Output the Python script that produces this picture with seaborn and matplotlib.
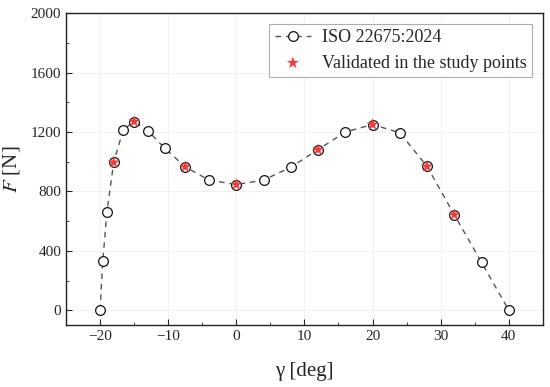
import numpy as np
import pandas as pd
import matplotlib.pyplot as plt
import seaborn as sns
from matplotlib.ticker import MultipleLocator

# data
gamma = [-20, -19.6, -19, -18, -16.6, -15, -13, -10.5, -7.5, -4, 0, 4, 8, 12, 16, 20, 24, 28, 32, 36, 40]
force = [0, 330, 660, 995, 1215, 1270, 1210, 1090, 965, 876, 846, 876, 963, 1081, 1200, 1250, 1195, 968, 643, 322, 0]
gamma_val = [-18, -15, -7.5, 0, 12, 20, 28, 32]
force_val = [995, 1270, 965, 846, 1081, 1250, 968, 643]

df = pd.DataFrame({'gamma': gamma, 'F': force})
df_val = pd.DataFrame({'gamma': gamma_val, 'F': force_val})

sns.set_style('ticks')
plt.rcParams['font.family'] = ['Liberation Serif', 'DejaVu Serif']
plt.rcParams['mathtext.fontset'] = 'stix'

fig, ax = plt.subplots(figsize=(5.5, 3.87), dpi=100)
fig.subplots_adjust(left=0.12, right=0.987, top=0.966, bottom=0.16)

sns.lineplot(data=df, x='gamma', y='F', ax=ax, color='#555555', linestyle=(0, (4, 3.5)),
             linewidth=1.0, marker='o', markersize=7, markerfacecolor='white',
             markeredgecolor='#111111', markeredgewidth=0.9, label='ISO 22675:2024')
sns.scatterplot(data=df_val, x='gamma', y='F', ax=ax, marker='*', s=85, color='#f03c3c',
                edgecolor='none', linewidth=0, zorder=5, label='Validated in the study points')

ax.set_xlim(-25, 45)
ax.set_ylim(-100, 2000)
ax.xaxis.set_major_locator(MultipleLocator(10))
ax.xaxis.set_minor_locator(MultipleLocator(5))
ax.yaxis.set_major_locator(MultipleLocator(400))
ax.yaxis.set_minor_locator(MultipleLocator(200))
ax.tick_params(which='both', direction='in', top=False, right=False, labelsize=11)
ax.tick_params(which='major', length=4)
ax.tick_params(which='minor', length=2.5)
ax.grid(True, which='major', color='#efefef', linewidth=0.6)
for s in ax.spines.values():
    s.set_linewidth(1.0)
    s.set_color('#222222')

ax.set_xlabel('γ [deg]', fontsize=15, labelpad=14)
ax.set_ylabel('$F$ [N]', fontsize=15, labelpad=6)

leg = ax.legend(loc='upper right', bbox_to_anchor=(0.977, 0.965), fontsize=13, frameon=True,
                fancybox=False, edgecolor='#999999', borderpad=0.3, handlelength=2.0,
                handletextpad=0.6, labelspacing=0.45, borderaxespad=0)
leg.get_frame().set_linewidth(0.8)

fig.savefig('out.png', dpi=100)
